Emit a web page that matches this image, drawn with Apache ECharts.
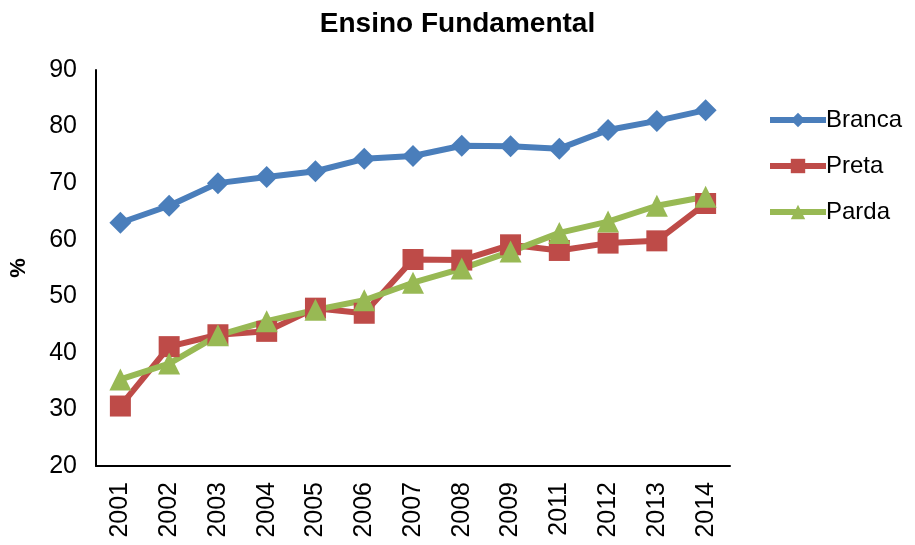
<!DOCTYPE html>
<html><head><meta charset="utf-8">
<script src="https://cdn.jsdelivr.net/npm/echarts@6/dist/echarts.min.js"></script>
<style>html,body{margin:0;padding:0;background:#fff}#c{width:915px;height:545px}</style>
</head><body><div id="c"></div>
<script>
const years = ['2001','2002','2003','2004','2005','2006','2007','2008','2009','2011','2012','2013','2014'];
const branca = [63.0, 66.0, 70.0, 71.1, 72.1, 74.3, 74.8, 76.6, 76.5, 76.1, 79.4, 81.0, 82.9];
const preta  = [30.6, 41.1, 43.2, 43.8, 47.9, 47.0, 56.5, 56.4, 59.1, 58.1, 59.4, 59.8, 66.4];
const parda  = [35.3, 38.1, 43.1, 45.6, 47.6, 49.3, 52.4, 54.9, 57.9, 61.2, 63.2, 66.0, 67.6];
const yTicks = [20, 30, 40, 50, 60, 70, 80, 90];

const font = 'Liberation Sans, Arial, sans-serif';
const chart = echarts.init(document.getElementById('c'), null, {renderer: 'canvas'});
function mk(name, data, color, symbol, size) {
  return {
    name, type: 'line', data, symbol, symbolSize: size,
    lineStyle: {color, width: 6}, itemStyle: {color},
    emphasis: {disabled: true}, z: 3
  };
}
chart.setOption({
  animation: false,
  title: {
    text: 'Ensino Fundamental', left: 'center', top: 5,
    textStyle: {fontFamily: font, fontSize: 28, fontWeight: 'bold', color: '#000'}
  },
  grid: {left: 94, right: 185, top: 70, bottom: 79, containLabel: false},
  legend: {
    orient: 'vertical', left: 767, top: 108, itemGap: 22, padding: 0,
    itemWidth: 56, itemHeight: 18,
    lineStyle: {width: 6},
    textStyle: {fontFamily: font, fontSize: 24, color: '#000', padding: [0, 0, 0, -5]},
    data: ['Branca', 'Preta', 'Parda']
  },
  xAxis: {
    type: 'category', data: years, boundaryGap: true,
    axisLine: {lineStyle: {color: '#000', width: 2}},
    axisTick: {show: false},
    axisLabel: {rotate: 90, fontFamily: font, fontSize: 25, color: '#000', margin: 16}
  },
  yAxis: {
    type: 'value', min: yTicks[0], max: yTicks[yTicks.length - 1], interval: 10,
    name: '%', nameLocation: 'middle', nameGap: 66, nameRotate: 90,
    nameTextStyle: {fontFamily: font, fontSize: 22, fontWeight: 'bold', color: '#000'},
    axisLine: {show: true, lineStyle: {color: '#000', width: 2}},
    axisTick: {show: false},
    splitLine: {show: false},
    axisLabel: {fontFamily: font, fontSize: 25, color: '#000', margin: 19}
  },
  series: [
    mk('Branca', branca, '#4a7ebb', 'diamond', 22),
    mk('Preta', preta, '#be4b48', 'rect', 21),
    mk('Parda', parda, '#98b954', 'triangle', 22)
  ]
});
</script></body></html>
